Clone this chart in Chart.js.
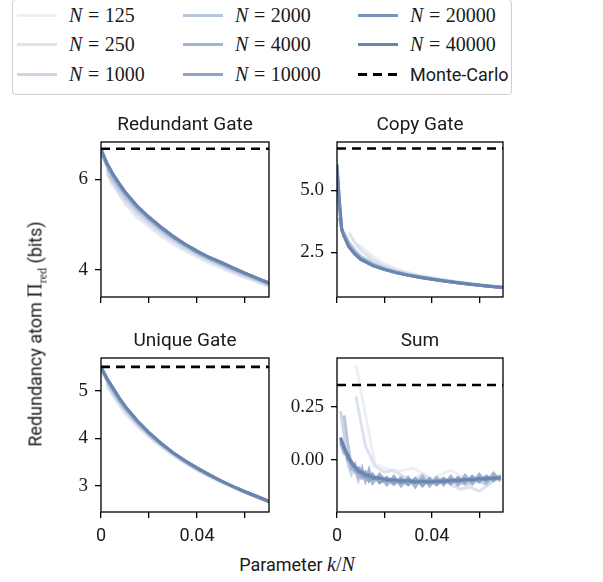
<!DOCTYPE html>
<html>
<head>
<meta charset="utf-8">
<script src="https://cdn.jsdelivr.net/npm/chart.js@4.4.1/dist/chart.umd.min.js"></script>
<style>
  body { margin: 0; background: #fff; }
  #fig { position: relative; width: 603px; height: 582px; overflow: hidden; font-family: Roboto, sans-serif; color: #1a1a1a; }
  #fig canvas { position: absolute; }
  .leg { position: absolute; left: 12px; top: -1px; width: 500px; height: 96px; border: 1px solid #cfcfcf; border-radius: 4px; box-sizing: border-box; }
  .item { position: absolute; height: 24px; display: flex; align-items: center; white-space: nowrap; font-size: 18px; }
  .swatch { width: 40px; height: 3px; margin-right: 12px; }
  .math { font-family: 'Liberation Serif', serif; font-size: 20px; }
  .eq { margin: 0 0.28em; }
</style>
</head>
<body>
<div id="fig">
  <div class="leg"></div>
  <canvas id="c0" width="238" height="206" style="left:41px;top:111px"></canvas>
  <canvas id="c1" width="236" height="206" style="left:277px;top:111px"></canvas>
  <canvas id="c2" width="238" height="225" style="left:41px;top:327px"></canvas>
  <canvas id="c3" width="236" height="225" style="left:277px;top:327px"></canvas>
  <div style="position:absolute;left:37px;top:334px;transform:translate(-50%,-50%) rotate(-90deg);font-size:18px;white-space:nowrap">Redundancy atom <span class="math">&Pi;<sub style="font-size:12px">red</sub></span> (bits)</div>
  <div style="position:absolute;left:297px;top:564px;transform:translate(-50%,-50%);font-size:18px;white-space:nowrap">Parameter <span class="math"><i>k</i>/<i>N</i></span></div>
</div>
<script>
// sample sizes and their colours (light -> dark)
const sizes = ['125', '250', '1000', '2000', '4000', '10000', '20000', '40000'];
const colors = ['#eceff5', '#dde3ee', '#ccd6e6', '#b7c6dd', '#a3b5d2', '#8fa5c7', '#7a93ba', '#6a85b0'];

// x = k/N
const kGrid = [0, 0.0025, 0.005, 0.0075, 0.01, 0.015, 0.02, 0.025, 0.03, 0.035, 0.04, 0.045, 0.05, 0.055, 0.06, 0.065, 0.07];
const kCopy = [0, 0.001, 0.002, 0.003, 0.005, 0.0075, 0.01, 0.015, 0.02, 0.025, 0.03, 0.035, 0.04, 0.045, 0.05, 0.055, 0.06, 0.065, 0.07];
const kSum = [0.0015, 0.003, 0.0045, 0.006, 0.0075, 0.009, 0.0105, 0.012, 0.0135, 0.015, 0.018, 0.021, 0.024, 0.027, 0.03, 0.033, 0.036, 0.039, 0.042, 0.045, 0.048, 0.051, 0.054, 0.057, 0.06, 0.063, 0.066, 0.069];
const kSum125 = [0.008, 0.016, 0.024, 0.032, 0.04, 0.048, 0.056, 0.064];
const kSum250 = [0.008, 0.012, 0.016, 0.02, 0.024, 0.028, 0.032, 0.036, 0.04, 0.044, 0.048, 0.052, 0.056, 0.06, 0.064, 0.068];

// one row per N, same order as sizes
const redundant = [
  [null, null, null, 5.68, 5.45, 5.16, 4.94, 4.74, 4.57, 4.42, 4.28, 4.15, 4.04, 3.93, 3.83, 3.73, 3.63],
  [null, 6.12, 5.88, 5.68, 5.5, 5.22, 4.99, 4.79, 4.61, 4.45, 4.31, 4.18, 4.06, 3.95, 3.84, 3.74, 3.64],
  [null, 6.18, 5.94, 5.75, 5.58, 5.29, 5.06, 4.85, 4.66, 4.5, 4.35, 4.22, 4.1, 3.98, 3.87, 3.77, 3.66],
  [null, 6.25, 6.0, 5.81, 5.63, 5.34, 5.1, 4.88, 4.69, 4.52, 4.37, 4.24, 4.12, 4.0, 3.89, 3.78, 3.68],
  [6.6, 6.3, 6.06, 5.86, 5.68, 5.38, 5.13, 4.91, 4.72, 4.55, 4.39, 4.26, 4.14, 4.02, 3.91, 3.8, 3.69],
  [6.64, 6.33, 6.09, 5.89, 5.71, 5.4, 5.15, 4.93, 4.73, 4.56, 4.4, 4.27, 4.15, 4.03, 3.92, 3.81, 3.7],
  [6.66, 6.35, 6.11, 5.91, 5.72, 5.41, 5.16, 4.94, 4.74, 4.57, 4.41, 4.28, 4.16, 4.04, 3.93, 3.82, 3.71],
  [6.68, 6.36, 6.12, 5.92, 5.73, 5.42, 5.17, 4.95, 4.75, 4.57, 4.42, 4.28, 4.17, 4.05, 3.93, 3.82, 3.71]
];
const copy = [
  [null, null, null, null, null, 2.85, 2.75, 2.35, 2.05, 1.85, 1.7, 1.58, 1.49, 1.41, 1.33, 1.27, 1.21, 1.16, 1.11],
  [null, null, null, null, 3.3, 2.9, 2.6, 2.2, 1.97, 1.8, 1.67, 1.56, 1.47, 1.39, 1.32, 1.26, 1.2, 1.15, 1.1],
  [null, null, null, 3.3, 2.92, 2.62, 2.36, 2.08, 1.89, 1.74, 1.63, 1.53, 1.45, 1.38, 1.31, 1.25, 1.19, 1.14, 1.1],
  [null, null, 3.45, 3.25, 2.86, 2.55, 2.31, 2.04, 1.86, 1.72, 1.61, 1.52, 1.44, 1.37, 1.3, 1.24, 1.19, 1.14, 1.1],
  [null, 3.9, 3.42, 3.2, 2.8, 2.5, 2.27, 2.01, 1.84, 1.71, 1.6, 1.51, 1.43, 1.36, 1.3, 1.24, 1.18, 1.14, 1.09],
  [5.7, 4.3, 3.4, 3.16, 2.76, 2.47, 2.25, 1.99, 1.83, 1.7, 1.59, 1.5, 1.43, 1.36, 1.29, 1.24, 1.18, 1.13, 1.09],
  [5.95, 4.5, 3.42, 3.15, 2.74, 2.45, 2.23, 1.98, 1.82, 1.69, 1.59, 1.5, 1.42, 1.35, 1.29, 1.23, 1.18, 1.13, 1.09],
  [6.05, 4.6, 3.45, 3.15, 2.72, 2.43, 2.22, 1.97, 1.81, 1.68, 1.58, 1.49, 1.42, 1.35, 1.29, 1.23, 1.18, 1.13, 1.09]
];
const unique = [
  [null, null, null, 4.68, 4.52, 4.25, 4.02, 3.82, 3.64, 3.48, 3.33, 3.2, 3.08, 2.97, 2.86, 2.76, 2.66],
  [null, 5.1, 4.9, 4.72, 4.55, 4.28, 4.04, 3.84, 3.65, 3.49, 3.34, 3.21, 3.08, 2.97, 2.86, 2.76, 2.66],
  [null, 5.15, 4.95, 4.76, 4.59, 4.31, 4.07, 3.86, 3.67, 3.5, 3.35, 3.22, 3.09, 2.98, 2.87, 2.77, 2.67],
  [null, 5.19, 4.98, 4.79, 4.62, 4.33, 4.08, 3.87, 3.68, 3.51, 3.36, 3.23, 3.1, 2.98, 2.87, 2.77, 2.67],
  [5.46, 5.22, 5.01, 4.82, 4.64, 4.35, 4.1, 3.88, 3.69, 3.52, 3.37, 3.23, 3.1, 2.99, 2.88, 2.78, 2.68],
  [5.48, 5.24, 5.03, 4.84, 4.66, 4.36, 4.11, 3.89, 3.7, 3.53, 3.37, 3.24, 3.11, 2.99, 2.88, 2.78, 2.68],
  [5.49, 5.25, 5.05, 4.85, 4.67, 4.37, 4.12, 3.9, 3.7, 3.53, 3.38, 3.24, 3.11, 2.99, 2.88, 2.78, 2.68],
  [5.5, 5.26, 5.06, 4.86, 4.68, 4.38, 4.12, 3.9, 3.7, 3.53, 3.38, 3.24, 3.11, 2.99, 2.88, 2.78, 2.68]
];
const sum = [
  [0.45, -0.02, -0.06, -0.04, -0.09, -0.05, -0.1, -0.12],
  [0.3, 0.065, -0.03, -0.06, -0.05, -0.08, -0.1, -0.07, -0.1, -0.09, -0.12, -0.14, -0.13, -0.15, -0.12, -0.08],
  [0.23, 0.12, -0.015, -0.07, -0.04, -0.1, -0.06, -0.1, -0.08, -0.11, -0.07, -0.1, -0.12, -0.08, -0.11, -0.1, -0.09, -0.12, -0.1, -0.09, -0.11, -0.1, -0.12, -0.11, -0.1, -0.12, -0.09, -0.1],
  [null, 0.21, 0.08, -0.03, -0.06, -0.07, -0.09, -0.08, -0.1, -0.09, -0.1, -0.11, -0.09, -0.12, -0.1, -0.11, -0.09, -0.12, -0.1, -0.11, -0.09, -0.12, -0.1, -0.1, -0.09, -0.1, -0.08, -0.09],
  [0.08, 0.03, 0.02, -0.04, -0.02, -0.08, -0.04, -0.1, -0.05, -0.11, -0.07, -0.12, -0.08, -0.125, -0.085, -0.13, -0.08, -0.125, -0.085, -0.12, -0.08, -0.12, -0.075, -0.115, -0.07, -0.11, -0.065, -0.1],
  [0.09, 0.06, 0.0, -0.005, -0.05, -0.04, -0.08, -0.06, -0.1, -0.07, -0.11, -0.085, -0.115, -0.09, -0.12, -0.09, -0.125, -0.09, -0.12, -0.09, -0.115, -0.085, -0.11, -0.08, -0.105, -0.078, -0.1, -0.075],
  [0.1, 0.05, 0.025, -0.02, -0.03, -0.06, -0.055, -0.08, -0.07, -0.09, -0.085, -0.1, -0.092, -0.108, -0.097, -0.11, -0.1, -0.11, -0.1, -0.108, -0.096, -0.104, -0.092, -0.1, -0.088, -0.096, -0.084, -0.09],
  [0.105, 0.06, 0.02, -0.01, -0.035, -0.052, -0.063, -0.072, -0.078, -0.083, -0.09, -0.095, -0.098, -0.1, -0.102, -0.104, -0.105, -0.105, -0.104, -0.102, -0.1, -0.098, -0.096, -0.094, -0.092, -0.09, -0.088, -0.087]
];
const sumX = [kSum125, kSum250, kSum, kSum, kSum, kSum, kSum, kSum];

// Monte-Carlo reference per panel
const monteCarlo = [6.68, 6.68, 5.5, 0.355];

const xTicks = [0, 0.02, 0.04, 0.06];

// legend (column-major like matplotlib ncol=3)
const leg = document.getElementById('fig');
const colX = [17, 183, 358];
const rowY = [15, 44, 74];
const legItems = sizes.map((n, i) => ({ html: '<span class="math"><i>N</i><span class="eq">=</span>' + n + '</span>', bg: colors[i] }));
legItems.push({ html: 'Monte-Carlo', bg: 'repeating-linear-gradient(90deg,#000 0 9px,transparent 9px 15px)' });
legItems.forEach((it, i) => {
  const d = document.createElement('div');
  d.className = 'item';
  d.style.left = colX[Math.floor(i / 3)] + 'px';
  d.style.top = (rowY[i % 3] - 12) + 'px';
  d.innerHTML = '<span class="swatch" style="background:' + it.bg + '"></span>' + it.html;
  leg.appendChild(d);
});

// black box around each axes
const frame = {
  id: 'frame',
  afterDatasetsDraw(chart) {
    const { ctx, chartArea: a } = chart;
    ctx.save();
    ctx.strokeStyle = '#000';
    ctx.lineWidth = 1.3;
    ctx.strokeRect(a.left, a.top, a.right - a.left, a.bottom - a.top);
    ctx.restore();
  }
};

function panel(id, title, xsList, values, mc, yMin, yMax, yTicks, yLabels, bottomRow) {
  const datasets = values.map((vals, i) => ({
    data: vals.map((v, j) => ({ x: xsList[i][j], y: v })),
    borderColor: colors[i],
    borderWidth: 3,
    pointRadius: 0,
    spanGaps: true,
    order: 8 - i
  }));
  datasets.push({
    data: [{ x: 0, y: mc }, { x: 0.07, y: mc }],
    borderColor: '#000',
    borderWidth: 2.6,
    borderDash: [9, 6],
    pointRadius: 0,
    order: 0
  });
  new Chart(document.getElementById(id), {
    type: 'line',
    data: { datasets },
    plugins: [frame],
    options: {
      responsive: false,
      devicePixelRatio: 1,
      animation: false,
      layout: { padding: { top: 3.2, right: 10, left: 0, bottom: 0 } },
      plugins: {
        legend: { display: false },
        tooltip: { enabled: false },
        title: {
          display: true,
          fullSize: false,
          text: title,
          color: '#1a1a1a',
          font: { family: 'Roboto', size: 19, weight: 'normal', lineHeight: 1.2 },
          padding: { top: 0, bottom: 5 }
        }
      },
      scales: {
        x: {
          type: 'linear',
          min: 0,
          max: 0.07,
          border: { display: false },
          grid: { drawOnChartArea: false, drawTicks: true, tickLength: 6, color: '#000', lineWidth: 1.3 },
          ticks: {
            display: bottomRow,
            color: '#1a1a1a',
            padding: 8,
            maxRotation: 0,
            font: { family: 'Roboto', size: 18 },
            callback: v => (v === 0 ? '0' : v === 0.04 ? '0.04' : '')
          },
          afterBuildTicks: s => { s.ticks = xTicks.map(v => ({ value: v })); },
          afterFit: s => { s.height = bottomRow ? 40 : 20; }
        },
        y: {
          min: yMin,
          max: yMax,
          border: { display: false },
          grid: { drawOnChartArea: false, drawTicks: true, tickLength: 6, color: '#000', lineWidth: 1.3 },
          ticks: {
            color: '#1a1a1a',
            padding: 7,
            font: { family: 'Liberation Serif', size: 19 },
            callback: v => yLabels[yTicks.indexOf(v)]
          },
          afterBuildTicks: s => { s.ticks = yTicks.map(v => ({ value: v })); },
          afterFit: s => { s.width = 60; }
        }
      }
    }
  });
}

const same = a => sizes.map(() => a);
panel('c0', 'Redundant Gate', same(kGrid), redundant, monteCarlo[0], 3.4, 6.83, [4, 6], ['4', '6'], false);
panel('c1', 'Copy Gate', same(kCopy), copy, monteCarlo[1], 0.71, 6.94, [2.5, 5], ['2.5', '5.0'], false);
panel('c2', 'Unique Gate', same(kGrid), unique, monteCarlo[2], 2.455, 5.686, [3, 4, 5], ['3', '4', '5'], true);
panel('c3', 'Sum', sumX, sum, monteCarlo[3], -0.249, 0.483, [0, 0.25], ['0.00', '0.25'], true);
</script>
</body>
</html>
